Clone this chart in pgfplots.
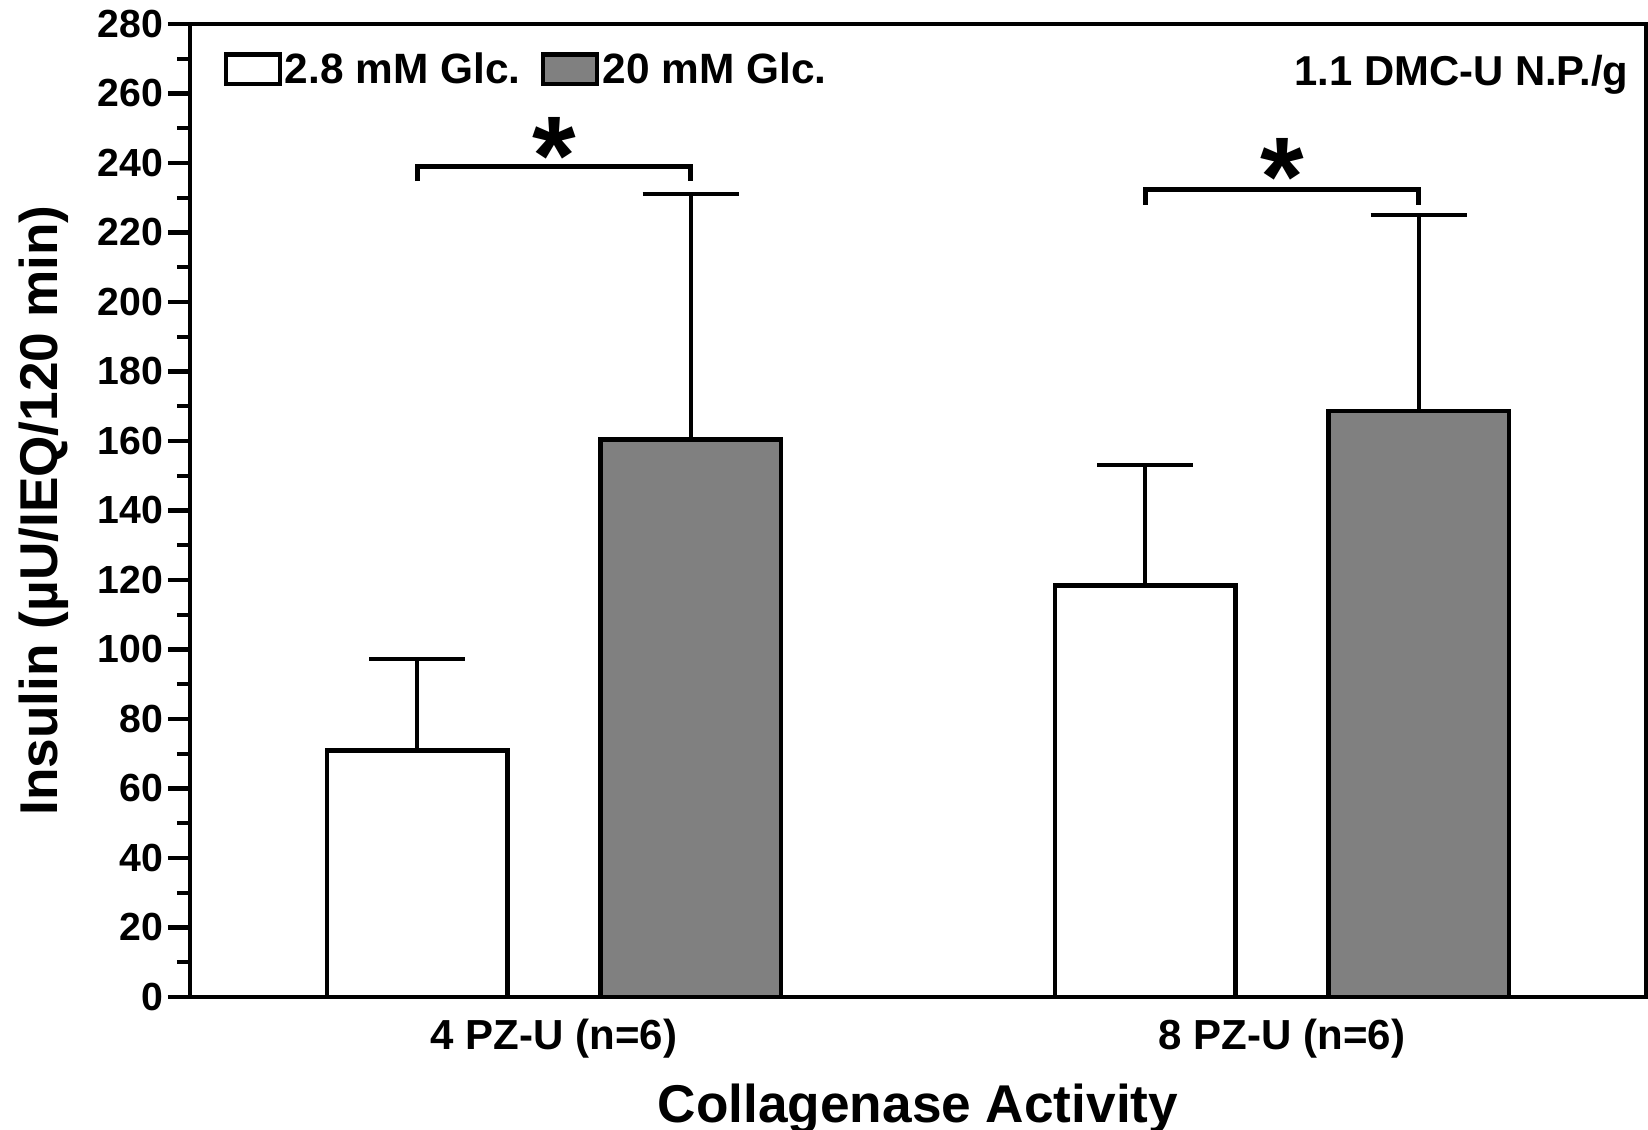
\documentclass[border=0pt]{standalone}
\usepackage{fontspec}
\setmainfont{Liberation Sans}
\usepackage{pgfplots}
\usepackage{pgfplotstable}
\pgfplotsset{compat=1.18}

\definecolor{barfill}{RGB}{128,128,128}

% insulin release per group: bar centre, mean and SEM (upper error only)
% groups sit at x = 1 (4 PZ-U) and x = 2 (8 PZ-U)
\pgfplotstableread{
x y e
0.8123 71.0 26.3
1.8123 118.4 34.8
}\lowglc
\pgfplotstableread{
x y e
1.1877 160.5 70.5
2.1877 168.6 56.3
}\highglc

\pgfplotsset{
  sem bar/.style={ybar, bar width=0.248, bar shift=0pt, draw=black, line width=1.17pt,
    error bars/.cd, y dir=plus, y explicit,
    error bar style={line width=1pt, black},
    error mark options={rotate=90, line width=1pt, mark size=12pt, black}},
}

\begin{document}
\begin{tikzpicture}
\begin{axis}[
  at={(0,0)}, anchor=south west,
  scale only axis,
  width=364pt, height=243.25pt,
  xmin=0.5, xmax=2.5,
  ymin=0, ymax=280,
  clip=false,
  axis line style={line width=1.1pt},
  every tick/.style={black, line width=1.1pt},
  tick align=outside,
  major tick length=5.5pt,
  minor tick length=3.3pt,
  ytick={0,20,...,280},
  minor y tick num=1,
  ytick pos=left,
  xtick={1,2},
  xticklabels={4 PZ-U (n=6), 8 PZ-U (n=6)},
  xtick style={draw=none},
  xtick pos=bottom,
  /pgf/number format/assume math mode=true,
  yticklabel style={font=\fontsize{9.8}{11}\selectfont\bfseries, inner sep=1pt},
  xticklabel style={font=\fontsize{10.5}{12}\selectfont\bfseries, yshift=3.4pt},
  xlabel={Collagenase Activity},
  ylabel={Insulin (µU/IEQ/120 min)},
  every axis x label/.style={at={(axis description cs:0.5,-0.1285)}, anchor=base,
    font=\fontsize{13.3}{15}\selectfont\bfseries},
  every axis y label/.style={at={(axis description cs:-0.0907,0.5)}, rotate=90, anchor=base,
    font=\fontsize{13.3}{15}\selectfont\bfseries},
]

\addplot[fill=white, sem bar]
  table[x=x, y=y, y error=e] {\lowglc};

\addplot[fill=barfill, sem bar]
  table[x=x, y=y, y error=e] {\highglc};

% significance brackets
\draw[line width=1.1pt] (axis cs:0.8123,234.8) -- (axis cs:0.8123,239.0)
  -- (axis cs:1.1877,239.0) -- (axis cs:1.1877,234.8);
\node[anchor=base, font=\fontsize{28}{30}\selectfont\bfseries, inner sep=0pt]
  at (axis cs:1,231) {*};
\draw[line width=1.1pt] (axis cs:1.8123,228.0) -- (axis cs:1.8123,232.4)
  -- (axis cs:2.1877,232.4) -- (axis cs:2.1877,228.0);
\node[anchor=base, font=\fontsize{28}{30}\selectfont\bfseries, inner sep=0pt]
  at (axis cs:2,225) {*};

% legend
\draw[line width=1.1pt, fill=white]
  ([xshift=9.05pt,yshift=-7.675pt]rel axis cs:0,1) rectangle
  ([xshift=22.45pt,yshift=-14.95pt]rel axis cs:0,1);
\node[anchor=base west, inner sep=0pt, font=\fontsize{10.6}{12}\selectfont\bfseries]
  at ([xshift=23.5pt,yshift=-15pt]rel axis cs:0,1) {2.8 mM Glc.};
\draw[line width=1.1pt, fill=barfill]
  ([xshift=88.3pt,yshift=-7.675pt]rel axis cs:0,1) rectangle
  ([xshift=101.7pt,yshift=-14.95pt]rel axis cs:0,1);
\node[anchor=base west, inner sep=0pt, font=\fontsize{10.6}{12}\selectfont\bfseries]
  at ([xshift=103pt,yshift=-15pt]rel axis cs:0,1) {20 mM Glc.};

% condition note
\node[anchor=base east, inner sep=0pt, font=\fontsize{10.45}{12}\selectfont\bfseries]
  at ([xshift=-4.25pt,yshift=-15.5pt]rel axis cs:1,1) {1.1 DMC-U N.P./g};
\end{axis}
\pgfresetboundingbox
\path (-47.5pt,-33.25pt) rectangle (364.5pt,249.25pt);
\end{tikzpicture}
\end{document}
